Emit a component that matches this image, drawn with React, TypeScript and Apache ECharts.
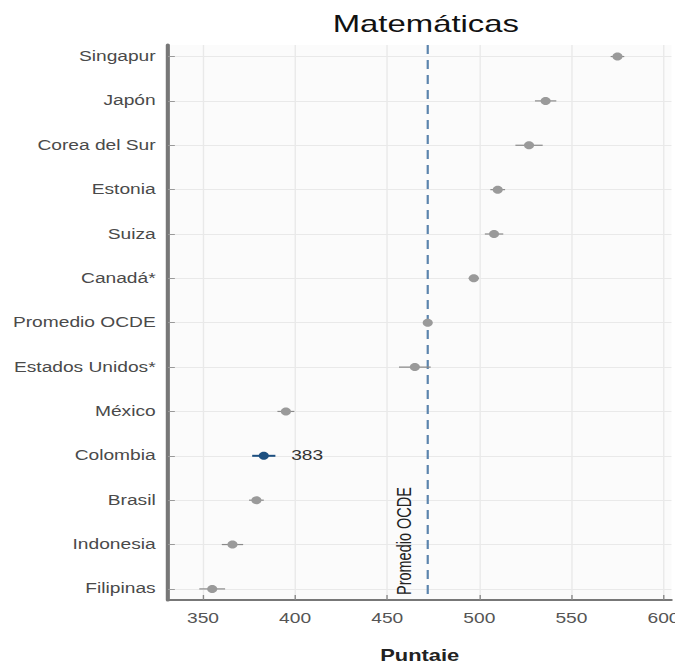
import React, { useEffect, useRef } from "react";
import * as echarts from "echarts";

const countries = [
  "Singapur", "Japón", "Corea del Sur", "Estonia", "Suiza", "Canadá*", "Promedio OCDE",
  "Estados Unidos*", "México", "Colombia", "Brasil", "Indonesia", "Filipinas",
];
const scores = [575, 536, 527, 510, 508, 497, 472, 465, 395, 383, 379, 366, 355];
const ciHalf = [3.7, 5.8, 7.4, 4, 5, 2.8, 0.8, 8.6, 4.6, 6.3, 4, 5.8, 7];
const highlight = "Colombia";
const oecdAverage = 472;
const xTicks = [350, 400, 450, 500, 550, 600];
const rowIndex = countries.map((_, i) => i);

const FONT = "Liberation Sans, Arial, sans-serif";
// the reference image is horizontally stretched; reproduce by scaling the chart box
const S = 1.37;
const W = 683 / S;
const H = 669;

export default function App() {
  const ref = useRef<HTMLDivElement>(null);
  useEffect(() => {
    const chart = echarts.init(ref.current!, null, { renderer: "svg" });
    const data = countries.map((c, i) => [scores[i], i, ciHalf[i], c === highlight ? 1 : 0]);
    chart.setOption({
      animation: false,
      backgroundColor: "#ffffff",
      textStyle: { fontFamily: FONT },
      title: {
        text: "Matemáticas",
        left: 419 / S,
        textAlign: "center",
        top: 7,
        textStyle: { fontSize: 24, fontWeight: "normal", color: "#111", fontFamily: FONT },
      },
      grid: {
        left: 168 / S,
        right: 10 / S,
        top: 45,
        bottom: 62,
        backgroundColor: "#fbfbfb",
        show: true,
        borderWidth: 0,
      },
      xAxis: {
        type: "value",
        min: 331,
        max: 604.3,
        name: "Puntaje",
        nameLocation: "middle",
        nameGap: 48,
        nameTextStyle: { fontSize: 16, fontWeight: "bold", color: "#222", fontFamily: FONT },
        axisLine: { show: true, onZero: false, lineStyle: { color: "#777", width: 2 } },
        axisTick: { show: true, inside: true, length: 5, customValues: xTicks, lineStyle: { color: "#888" } },
        axisLabel: { customValues: xTicks, color: "#555", fontSize: 14, margin: 11, fontFamily: FONT },
        splitLine: { show: true, lineStyle: { color: "#e9e9e9", width: 1 } },
      },
      yAxis: {
        type: "value",
        min: -0.26,
        max: 12.25,
        inverse: true,
        axisLine: { show: true, onZero: false, lineStyle: { color: "#777", width: 3 } },
        axisTick: { show: true, inside: true, length: 5, customValues: rowIndex, lineStyle: { color: "#999" } },
        axisLabel: {
          customValues: rowIndex,
          formatter: (v: number) => countries[Math.round(v)] ?? "",
          color: "#4a4a4a",
          fontSize: 14,
          margin: 9,
          fontFamily: FONT,
        },
        splitLine: { show: true, lineStyle: { color: "#e9e9e9", width: 1 } },
      },
      series: [
        {
          type: "custom",
          data: [[oecdAverage]],
          silent: true,
          z: 2,
          renderItem: (params: any, api: any) => {
            const x = api.value(0);
            const top = api.coord([x, -0.26]);
            const bot = api.coord([x, 12.25]);
            return {
              type: "group",
              children: [
                {
                  type: "line",
                  shape: { x1: top[0], y1: top[1], x2: bot[0], y2: bot[1] },
                  style: { stroke: "#5b84ad", lineWidth: 1.6, lineDash: [9, 6] },
                },
                {
                  type: "text",
                  x: bot[0] - 10,
                  y: bot[1] - 5,
                  rotation: Math.PI / 2,
                  style: {
                    text: "Promedio OCDE",
                    align: "left",
                    verticalAlign: "bottom",
                    fill: "#222",
                    fontSize: 14.5,
                    fontFamily: FONT,
                  },
                },
              ],
            };
          },
        },
        {
          type: "custom",
          data,
          z: 5,
          renderItem: (params: any, api: any) => {
            const v = api.value(0);
            const y = api.value(1);
            const h = api.value(2);
            const hl = api.value(3) === 1;
            const p = api.coord([v, y]);
            const l = api.coord([v - h, y]);
            const r = api.coord([v + h, y]);
            const color = hl ? "#1c4f80" : "#9a9a9a";
            const children: any[] = [
              {
                type: "line",
                shape: { x1: l[0], y1: p[1], x2: r[0], y2: p[1] },
                style: { stroke: hl ? "#1c4f80" : "#8a8a8a", lineWidth: hl ? 2 : 1.2 },
              },
              {
                type: "ellipse",
                shape: { cx: p[0], cy: p[1], rx: 3.7, ry: 4 },
                style: { fill: color },
              },
            ];
            if (hl) {
              children.push({
                type: "text",
                x: p[0] + 20,
                y: p[1],
                style: {
                  text: String(v),
                  align: "left",
                  verticalAlign: "middle",
                  fill: "#333",
                  fontSize: 14,
                  fontFamily: FONT,
                },
              });
            }
            return { type: "group", children };
          },
        },
      ],
    });
    return () => chart.dispose();
  }, []);
  return (
    <div
      ref={ref}
      style={{
        width: W,
        height: H,
        margin: -8,
        transform: `scaleX(${S})`,
        transformOrigin: "0 0",
      }}
    />
  );
}
